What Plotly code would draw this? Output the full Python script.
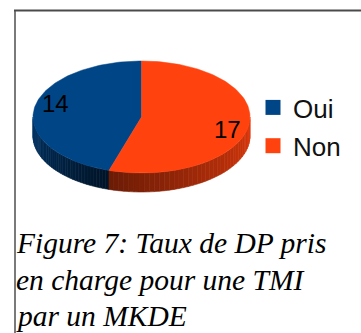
import numpy as np
import plotly.graph_objects as go

# Survey answers
categories = ["Oui", "Non"]
values = [14, 17]
colors = ["#004586", "#ff420e"]
caption_lines = ["Figure 7: Taux de DP pris", "en charge pour une TMI", "par un MKDE"]

W, H = 361, 333
# pie geometry (pixel space)
cx, cy, rx, ry, depth = 141.5, 117.0, 108.5, 56.0, 19.0


def pt(a_deg, dy=0.0):
    a = np.radians(a_deg)
    return cx + rx * np.cos(a), cy - ry * np.sin(a) + dy


def hex_rgb(h):
    h = h.lstrip("#")
    return [int(h[i:i + 2], 16) for i in (0, 2, 4)]


def shade(h, f):
    r, g, b = hex_rgb(h)
    return f"rgb({int(r * f)},{int(g * f)},{int(b * f)})"


total = sum(values)
spans = []
start = 90.0
for v in values:
    sweep = 360.0 * v / total
    spans.append((start, start + sweep))
    start += sweep

# side gradient factors per slice (start of visible side -> end)
side_f = [(0.78, 0.3), (0.42, 0.88)]

fig = go.Figure()

# visible rim (front half of the disc)
for (a0, a1), col, (f0, f1) in zip(spans, colors, side_f):
    lo, hi = max(a0, 180.0), min(a1, 360.0)
    if hi <= lo:
        continue
    n = 40
    edges = np.linspace(lo, hi, n + 1)
    for i in range(n):
        t = (i + 0.5) / n
        f = f0 + (f1 - f0) * t
        xa, ya = pt(edges[i])
        xb, yb = pt(edges[i + 1])
        xs = [xa, xb, xb, xa, xa]
        ys = [ya, yb, yb + depth, ya + depth, ya]
        c = shade(col, f)
        fig.add_trace(go.Scatter(x=xs, y=ys, mode="lines", fill="toself",
                                 fillcolor=c, line=dict(color=c, width=0.6),
                                 hoverinfo="skip", showlegend=False))

# top faces
for (a0, a1), col in zip(spans, colors):
    angs = np.linspace(a0, a1, 120)
    xs = [cx] + [pt(a)[0] for a in angs] + [cx]
    ys = [cy] + [pt(a)[1] for a in angs] + [cy]
    fig.add_trace(go.Scatter(x=xs, y=ys, mode="lines", fill="toself",
                             fillcolor=col, line=dict(color=col, width=0.5),
                             hoverinfo="skip", showlegend=False))

# legend entries
for i, (cat, col) in enumerate(zip(categories, colors)):
    fig.add_trace(go.Scatter(x=[None], y=[None], mode="markers", name=cat,
                             legendgroup=cat,
                             marker=dict(symbol="square", size=15, color=col)))

# value labels
label_dy = [-7.0, 6.0]
for (a0, a1), v, dy in zip(spans, values, label_dy):
    mid = (a0 + a1) / 2
    a = np.radians(mid)
    lx = cx + 0.8 * rx * np.cos(a)
    ly = cy - 0.8 * ry * np.sin(a) + dy
    fig.add_annotation(x=lx, y=ly, text=str(v), showarrow=False,
                       font=dict(family="Liberation Sans", size=24, color="#000000"))

# caption, one line per annotation
for i, line in enumerate(caption_lines):
    fig.add_annotation(x=14, y=225 + 36.5 * i, xanchor="left", yanchor="top",
                       text=f"<i>{line}</i>", showarrow=False, align="left",
                       font=dict(family="Liberation Serif", size=29.5, color="#000000"))

# frame lines
fig.add_shape(type="line", x0=15, x1=15, y0=10, y1=H, line=dict(color="#7a7a7a", width=2))
fig.add_shape(type="line", x0=14, x1=W, y0=10.5, y1=10.5, line=dict(color="#4a4a4a", width=2))

fig.update_layout(
    width=W, height=H, autosize=False,
    margin=dict(l=0, r=0, t=0, b=0),
    paper_bgcolor="white", plot_bgcolor="white",
    xaxis=dict(range=[0, W], visible=False, fixedrange=True),
    yaxis=dict(range=[H, 0], visible=False, fixedrange=True),
    legend=dict(x=253 / W, y=1 - 84 / H, xanchor="left", yanchor="top",
                font=dict(family="Liberation Sans", size=26, color="#111111"),
                tracegroupgap=1.5, bgcolor="rgba(0,0,0,0)", itemsizing="trace"),
    showlegend=True,
)

fig.write_html("out.html")
